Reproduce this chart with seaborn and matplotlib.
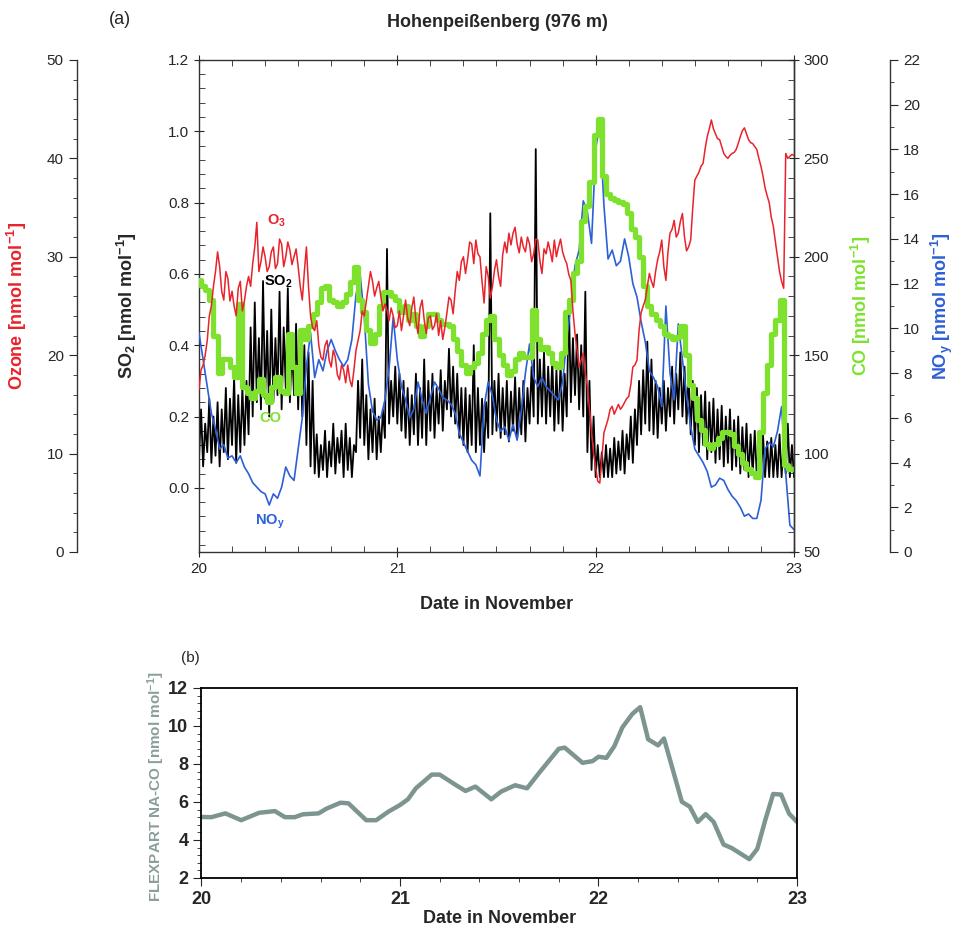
import numpy as np
import pandas as pd
import matplotlib
matplotlib.use("Agg")
import matplotlib.pyplot as plt
import seaborn as sns
from matplotlib.ticker import MultipleLocator, FormatStrFormatter

# half-hourly samples, hours after 20 Nov 00:00
hours = np.arange(0, 72.5, 0.5)

# ozone on the half hour and at a quarter past (nmol/mol)
ozone = [
    16.5, 19.0, 21.5, 25.0, 28.5, 29.0, 25.6, 27.8, 26.5, 24.0, 27.5, 25.5,
    28.0, 29.3, 33.5, 29.5, 30.0, 29.0, 31.0, 29.3, 31.3, 30.0, 30.7, 30.0,
    29.0, 25.6, 31.0, 24.0, 22.5, 21.0, 19.5, 21.5, 18.8, 19.8, 17.5, 18.5,
    19.0, 16.8, 20.5, 22.5, 24.0, 27.0, 27.5, 26.8, 26.0, 25.2, 23.5, 24.0,
    23.0, 22.5, 25.6, 23.0, 25.9, 22.2, 25.6, 22.2, 24.0, 23.0, 22.0, 21.6,
    24.3, 25.6, 26.5, 27.6, 30.0, 29.7, 31.3, 31.7, 30.0, 25.3, 28.0, 26.9,
    29.7, 27.0, 31.5, 32.4, 32.4, 31.3, 32.0, 30.5, 31.3, 30.3, 31.7, 28.3,
    30.3, 30.6, 31.7, 31.0, 30.5, 29.3, 27.6, 22.2, 18.8, 20.2, 16.8, 12.1,
    8.6, 7.0, 12.1, 13.5, 14.8, 14.5, 14.5, 15.2, 15.8, 18.8, 19.5, 24.3,
    25.6, 28.3, 26.9, 29.7, 31.7, 27.6, 32.4, 33.7, 32.4, 34.4, 30.6, 31.7,
    37.8, 38.6, 39.5, 42.2, 43.9, 42.5, 41.9, 40.5, 40.0, 40.5, 40.9, 42.2,
    43.1, 41.9, 41.5, 40.9, 39.2, 37.0, 35.5, 33.1, 30.0, 27.5, 40.5, 40.2,
    40.3,
]
ozone_q = [
    18.5, 20.0, 24.0, 27.0, 30.5, 26.5, 28.5, 25.5, 25.0, 26.8, 24.5, 27.0,
    27.0, 31.0, 28.5, 31.0, 28.5, 30.5, 28.8, 31.8, 29.0, 31.5, 29.2, 30.8,
    27.0, 28.5, 27.0, 22.8, 23.5, 19.8, 21.0, 19.5, 20.5, 18.0, 19.0, 17.2,
    17.5, 18.5, 21.5, 24.5, 25.5, 28.5, 26.0, 27.5, 24.5, 24.6, 24.8, 22.8,
    24.5, 24.0, 23.8, 24.8, 23.5, 24.8, 23.6, 23.8, 22.6, 24.2, 23.5, 22.8,
    25.9, 24.2, 28.5, 29.5, 28.3, 31.5, 29.3, 30.3, 27.5, 29.0, 25.8, 28.6,
    28.0, 30.2, 30.4, 31.2, 33.0, 30.4, 31.0, 32.0, 29.5, 31.8, 29.6, 30.8,
    31.5, 29.5, 30.0, 31.8, 29.8, 28.2, 24.5, 20.5, 19.5, 18.2, 14.5, 10.0,
    7.2, 9.5, 12.8, 14.5, 14.0, 15.0, 14.8, 15.6, 17.0, 19.0, 22.5, 25.0,
    27.0, 27.5, 28.5, 30.5, 29.0, 30.5, 32.8, 32.0, 33.6, 32.0, 31.0, 35.0,
    38.2, 39.2, 41.0, 43.0, 43.0, 42.0, 41.2, 40.2, 40.3, 40.6, 41.5, 42.8,
    42.5, 41.6, 41.2, 40.0, 38.2, 36.2, 34.0, 31.5, 28.5, 26.8, 40.0, 40.4,
    40.3,
]

# SO2: lower edge on the half hour, upper edge at a quarter past
so2_low = [
    0.08, 0.06, 0.10, 0.07, 0.09, 0.06, 0.10, 0.08, 0.12, 0.07, 0.10, 0.12,
    0.15, 0.20, 0.24, 0.22, 0.25, 0.20, 0.24, 0.26, 0.22, 0.28, 0.24, 0.26,
    0.22, 0.20, 0.12, 0.06, 0.04, 0.03, 0.05, 0.03, 0.06, 0.04, 0.07, 0.03,
    0.05, 0.03, 0.10, 0.14, 0.12, 0.08, 0.10, 0.08, 0.10, 0.14, 0.18, 0.20,
    0.18, 0.16, 0.14, 0.12, 0.15, 0.12, 0.14, 0.12, 0.16, 0.14, 0.18, 0.16,
    0.22, 0.20, 0.18, 0.14, 0.12, 0.10, 0.12, 0.10, 0.12, 0.10, 0.14, 0.15,
    0.16, 0.14, 0.15, 0.13, 0.16, 0.14, 0.15, 0.13, 0.18, 0.20, 0.18, 0.20,
    0.18, 0.20, 0.16, 0.18, 0.16, 0.20, 0.24, 0.26, 0.22, 0.20, 0.10, 0.05,
    0.03, 0.03, 0.03, 0.03, 0.03, 0.04, 0.05, 0.04, 0.08, 0.07, 0.12, 0.15,
    0.18, 0.16, 0.15, 0.14, 0.18, 0.16, 0.20, 0.18, 0.22, 0.20, 0.18, 0.15,
    0.12, 0.10, 0.12, 0.08, 0.10, 0.07, 0.08, 0.06, 0.07, 0.05, 0.06, 0.04,
    0.05, 0.03, 0.04, 0.03, 0.03, 0.03, 0.03, 0.03, 0.03, 0.03, 0.04, 0.03,
    0.03,
]
so2_high = [
    0.22, 0.18, 0.25, 0.20, 0.24, 0.22, 0.28, 0.25, 0.31, 0.26, 0.28, 0.30,
    0.45, 0.52, 0.42, 0.58, 0.44, 0.50, 0.42, 0.55, 0.45, 0.56, 0.40, 0.46,
    0.42, 0.40, 0.38, 0.30, 0.15, 0.12, 0.16, 0.13, 0.18, 0.14, 0.16, 0.18,
    0.14, 0.12, 0.30, 0.36, 0.26, 0.22, 0.25, 0.20, 0.22, 0.67, 0.30, 0.34,
    0.32, 0.30, 0.28, 0.26, 0.32, 0.28, 0.36, 0.30, 0.32, 0.28, 0.33, 0.30,
    0.39, 0.34, 0.32, 0.28, 0.28, 0.26, 0.40, 0.28, 0.25, 0.24, 0.77, 0.30,
    0.32, 0.28, 0.30, 0.27, 0.31, 0.28, 0.30, 0.28, 0.34, 0.95, 0.36, 0.38,
    0.34, 0.36, 0.33, 0.35, 0.32, 0.53, 0.42, 0.43, 0.40, 0.55, 0.30, 0.20,
    0.12, 0.10, 0.12, 0.11, 0.14, 0.13, 0.16, 0.15, 0.20, 0.22, 0.30, 0.33,
    0.41, 0.36, 0.30, 0.28, 0.30, 0.28, 0.34, 0.32, 0.38, 0.34, 0.32, 0.30,
    0.28, 0.26, 0.27, 0.24, 0.25, 0.22, 0.23, 0.20, 0.22, 0.19, 0.20, 0.17,
    0.18, 0.15, 0.16, 0.14, 0.15, 0.13, 0.14, 0.12, 0.15, 0.13, 0.18, 0.12,
    0.10,
]

noy = [
    9.8, 8.6, 7.4, 6.2, 5.5, 4.6, 4.8, 4.2, 4.3, 4.0, 4.3, 3.8,
    3.5, 3.1, 2.9, 2.7, 2.6, 2.1, 2.6, 2.4, 2.9, 3.8, 3.4, 3.2,
    4.6, 6.0, 8.3, 9.8, 7.8, 8.6, 8.1, 9.0, 9.5, 9.0, 8.6, 8.3,
    8.6, 9.5, 11.5, 12.4, 10.5, 7.5, 6.3, 5.9, 6.0, 6.8, 8.2, 10.5,
    8.6, 7.4, 6.8, 6.0, 6.4, 7.6, 6.8, 6.2, 6.9, 7.6, 7.3, 6.9,
    6.8, 6.6, 6.2, 5.3, 4.9, 4.5, 4.1, 3.9, 3.4, 6.5, 7.6, 7.0,
    5.9, 5.4, 5.6, 5.0, 5.7, 5.0, 6.3, 8.0, 9.3, 7.8, 7.4, 7.8,
    7.4, 7.2, 7.0, 6.8, 7.6, 9.5, 11.0, 12.8, 13.5, 15.7, 15.2, 13.8,
    18.0, 19.2, 15.5, 13.1, 13.5, 12.8, 13.0, 14.0, 13.2, 12.0, 11.4, 10.3,
    9.4, 8.1, 7.8, 7.4, 6.5, 11.0, 8.0, 6.8, 10.2, 8.6, 7.0, 5.6,
    4.6, 4.3, 4.0, 3.6, 2.9, 3.0, 3.3, 3.2, 2.8, 2.5, 2.3, 2.0,
    1.6, 1.7, 1.5, 1.5, 2.3, 4.6, 4.9, 4.7, 5.4, 6.5, 3.5, 1.2,
    1.0,
]

co = [
    188, 185, 183, 178, 160, 141, 148, 148, 144, 139, 176, 134,
    131, 128, 132, 138, 130, 126, 134, 139, 132, 131, 161, 144,
    131, 163, 158, 165, 171, 177, 184, 185, 178, 177, 175, 177,
    181, 187, 195, 178, 172, 163, 156, 161, 175, 182, 182, 180,
    178, 172, 175, 168, 171, 165, 160, 165, 171, 171, 168, 166,
    166, 165, 158, 152, 145, 141, 144, 146, 151, 161, 168, 170,
    158, 150, 145, 140, 142, 148, 151, 149, 149, 173, 158, 153,
    154, 151, 146, 144, 151, 172, 178, 192, 198, 218, 226, 238,
    262, 270, 241, 232, 230, 229, 228, 227, 222, 214, 210, 200,
    185, 175, 171, 168, 165, 161, 160, 158, 159, 165, 150, 135,
    128, 117, 112, 105, 103, 105, 108, 111, 111, 110, 104, 100,
    95, 92, 90, 88, 111, 131, 145, 161, 168, 178, 94, 92,
    92,
]

flex_time = [
    20.00, 20.05, 20.12, 20.20, 20.29, 20.37, 20.42, 20.47, 20.51, 20.59,
    20.63, 20.70, 20.74, 20.83, 20.88, 20.94, 21.00, 21.04, 21.08, 21.16,
    21.20, 21.28, 21.33, 21.38, 21.46, 21.51, 21.58, 21.64, 21.70, 21.80,
    21.83, 21.92, 21.97, 22.00, 22.04, 22.08, 22.12, 22.17, 22.21, 22.25,
    22.30, 22.33, 22.42, 22.46, 22.50, 22.54, 22.58, 22.63, 22.67, 22.76,
    22.80, 22.84, 22.88, 22.92, 22.96, 23.00,
]
flex_co = [
    5.21, 5.20, 5.40, 5.04, 5.43, 5.52, 5.20, 5.20, 5.35, 5.40,
    5.65, 5.96, 5.93, 5.04, 5.04, 5.48, 5.84, 6.14, 6.72, 7.44,
    7.44, 6.90, 6.58, 6.81, 6.14, 6.55, 6.88, 6.72, 7.52, 8.80,
    8.86, 8.06, 8.15, 8.38, 8.32, 8.94, 9.92, 10.63, 10.99, 9.30,
    8.98, 9.34, 6.01, 5.75, 4.95, 5.36, 4.95, 3.76, 3.58, 2.99,
    3.53, 5.04, 6.42, 6.39, 5.39, 4.95,
]

O3_RED = '#e8232b'
CO_GREEN = '#7ee12e'
NOY_BLUE = '#2d5fd6'
FLEX_GREY = '#7d9590'

sns.set_style('ticks')
plt.rcParams['font.family'] = ['Liberation Sans', 'DejaVu Sans']
plt.rcParams['mathtext.fontset'] = 'custom'
plt.rcParams['mathtext.rm'] = 'Liberation Sans'
plt.rcParams['mathtext.it'] = 'Liberation Sans:italic'
plt.rcParams['mathtext.bf'] = 'Liberation Sans:bold'

date = 20 + hours / 24
date_q = 20 + (hours + 0.25) / 24
df = pd.DataFrame({'date': date, 'co': co, 'noy': noy})
df_o3 = pd.concat([pd.DataFrame({'date': date, 'o3': ozone}),
                   pd.DataFrame({'date': date_q, 'o3': ozone_q})])
df_so2 = pd.concat([pd.DataFrame({'date': date, 'so2': so2_low}),
                    pd.DataFrame({'date': date_q, 'so2': so2_high})])
df_flex = pd.DataFrame({'date': flex_time, 'flex': flex_co})

UNIT = r' [nmol mol$^{\mathbf{-1}}$]'

fig = plt.figure(figsize=(9.65, 9.34), dpi=100)

# ---- panel (a) ----
ax = fig.add_axes([0.2062, 0.409, 0.6166, 0.5268])
ax_no = ax.twinx()
ax_co = ax.twinx()
ax_o3 = ax.twinx()

sns.lineplot(data=df_so2, x='date', y='so2', ax=ax, color='black', lw=1.3,
             estimator=None)
sns.lineplot(data=df, x='date', y='noy', ax=ax_no, color=NOY_BLUE, lw=1.2,
             estimator=None)
sns.lineplot(data=df, x='date', y='co', ax=ax_co, color=CO_GREEN, lw=3.8,
             estimator=None, drawstyle='steps-mid')
sns.lineplot(data=df_o3, x='date', y='o3', ax=ax_o3, color=O3_RED, lw=1.1,
             estimator=None)

ax.set_xlim(20, 23)
ax.set_xticks([20, 21, 22, 23])
ax.set_xticklabels(['20', '21', '22', '23'])
ax.xaxis.set_minor_locator(MultipleLocator(1 / 6))

ax.set_ylim(-0.18, 1.2)
ax.set_yticks(np.arange(0, 1.21, 0.2))
ax.yaxis.set_major_formatter(FormatStrFormatter('%.1f'))
ax.yaxis.set_minor_locator(MultipleLocator(0.04))
ax.tick_params(axis='x', which='major', direction='inout', length=7,
               top=True, labelsize=11)
ax.tick_params(axis='x', which='minor', direction='in', length=4, top=True)
ax.tick_params(axis='y', which='major', direction='inout', length=7,
               right=False, labelsize=11)
ax.tick_params(axis='y', which='minor', direction='in', length=4, right=False)

ax_o3.set_ylim(0, 50)
ax_o3.set_yticks(np.arange(0, 51, 10))
ax_o3.yaxis.set_minor_locator(MultipleLocator(2))
ax_o3.yaxis.tick_left()
ax_o3.yaxis.set_label_position('left')
for s in ['top', 'bottom', 'right']:
    ax_o3.spines[s].set_visible(False)
ax_o3.spines['left'].set_position(('axes', -0.205))
ax_o3.tick_params(axis='y', which='major', direction='out', length=6,
                  labelsize=11)
ax_o3.tick_params(axis='y', which='minor', direction='out', length=3)

ax_co.set_ylim(50, 300)
ax_co.set_yticks(np.arange(50, 301, 50))
ax_co.yaxis.set_minor_locator(MultipleLocator(10))
for s in ['top', 'bottom', 'left']:
    ax_co.spines[s].set_visible(False)
ax_co.tick_params(axis='y', which='major', direction='inout', length=7,
                  labelsize=11)
ax_co.tick_params(axis='y', which='minor', direction='in', length=4)

ax_no.set_ylim(0, 22)
ax_no.set_yticks(np.arange(0, 23, 2))
ax_no.yaxis.set_minor_locator(MultipleLocator(1))
for s in ['top', 'bottom', 'left']:
    ax_no.spines[s].set_visible(False)
ax_no.spines['right'].set_position(('axes', 1.161))
ax_no.tick_params(axis='y', which='major', direction='out', length=6,
                  labelsize=11)
ax_no.tick_params(axis='y', which='minor', direction='out', length=3)

for a in [ax, ax_o3, ax_co, ax_no]:
    for s in a.spines.values():
        s.set_linewidth(1.0)
        s.set_color('#333333')

ax.set_xlabel('Date in November', fontsize=13, fontweight='bold')
ax.xaxis.set_label_coords(0.5, -0.09)
ax.set_ylabel(r'SO$_\mathbf{2}$' + UNIT, fontsize=13, fontweight='bold')
ax.yaxis.set_label_coords(-0.1, 0.5)
ax_o3.set_ylabel('Ozone' + UNIT, fontsize=13, fontweight='bold', color=O3_RED)
ax_o3.yaxis.set_label_coords(-0.285, 0.5)
ax_co.set_ylabel('CO' + UNIT, fontsize=13, fontweight='bold', color=CO_GREEN)
ax_co.yaxis.set_label_coords(1.092, 0.5)
ax_no.set_ylabel(r'NO$_\mathbf{y}$' + UNIT, fontsize=13, fontweight='bold',
                 color=NOY_BLUE)
ax_no.yaxis.set_label_coords(1.226, 0.5)

# in-plot series labels, drawn on the top-most twin so they stay visible
tags = [
    (20.393, 0.749, r'O$_\mathbf{3}$', O3_RED),
    (20.398, 0.578, r'SO$_\mathbf{2}$', 'black'),
    (20.358, 0.196, 'CO', CO_GREEN),
    (20.358, -0.095, r'NO$_\mathbf{y}$', NOY_BLUE),
]
for tx, ty, txt, col in tags:
    ax_o3.text(tx, ty, txt, color=col, fontsize=10.5, fontweight='bold',
               ha='center', va='center', transform=ax.transData, zorder=10)

fig.text(0.515, 0.976, 'Hohenpeißenberg (976 m)', fontsize=13,
         fontweight='bold', ha='center', va='center')
fig.text(0.124, 0.979, '(a)', fontsize=13, ha='center', va='center')

# ---- panel (b) ----
ax_b = fig.add_axes([0.2088, 0.06, 0.6171, 0.2034])
sns.lineplot(data=df_flex, x='date', y='flex', ax=ax_b, color=FLEX_GREY,
             lw=3.2, estimator=None)
ax_b.set_xlim(20, 23)
ax_b.set_ylim(2, 12)
ax_b.set_xticks([20, 21, 22, 23])
ax_b.set_xticklabels(['20', '21', '22', '23'])
ax_b.set_yticks(np.arange(2, 13, 2))
ax_b.set_yticklabels([str(v) for v in range(2, 13, 2)])
ax_b.xaxis.set_minor_locator(MultipleLocator(0.2))
ax_b.yaxis.set_minor_locator(MultipleLocator(0.4))
ax_b.tick_params(which='major', direction='out', length=6, labelsize=13)
ax_b.tick_params(which='minor', direction='out', length=3)
for lbl in ax_b.get_xticklabels() + ax_b.get_yticklabels():
    lbl.set_fontweight('bold')
for s in ax_b.spines.values():
    s.set_linewidth(1.3)
    s.set_color('black')
ax_b.set_xlabel('Date in November', fontsize=13, fontweight='bold')
ax_b.xaxis.set_label_coords(0.5, -0.17)
ax_b.set_ylabel('FLEXPART NA-CO' + UNIT, fontsize=11, fontweight='bold',
                color='#8a9e9b')
ax_b.yaxis.set_label_coords(-0.058, 0.48)
fig.text(190 / 965, 1 - 658 / 934, '(b)', fontsize=11, ha='center',
         va='center')

fig.savefig('out.png', dpi=100)
